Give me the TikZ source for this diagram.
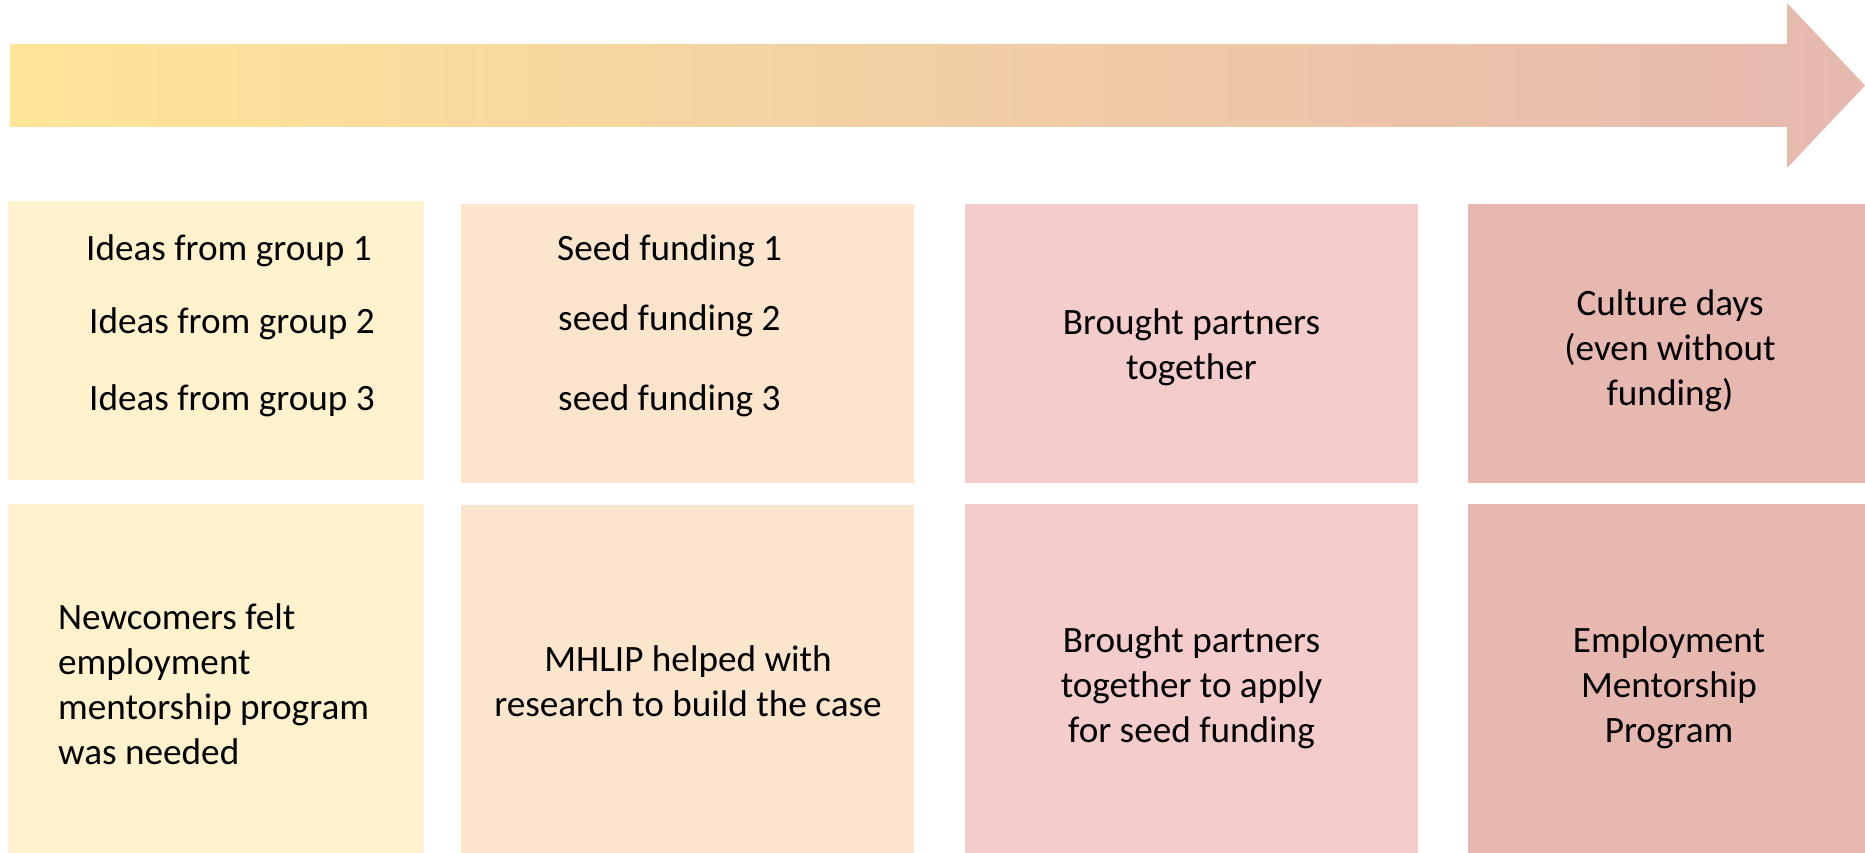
\documentclass[tikz,border=0pt]{standalone}
\usepackage{fontspec}
\setmainfont{Carlito}
\definecolor{stageA}{HTML}{FFF2CC}
\definecolor{stageB}{HTML}{FCE5CD}
\definecolor{stageC}{HTML}{F4CCCC}
\definecolor{stageD}{HTML}{E6B8AF}
\definecolor{arrowStart}{HTML}{FFE599}
\begin{document}
\begin{tikzpicture}[x=1pt,y=-1pt,
  cell/.style={draw=none,inner sep=0pt,anchor=north west},
  txt/.style={inner sep=0pt,font=\fontsize{37.2}{44.7}\selectfont,align=center,anchor=base},
  txtl/.style={txt,anchor=base west,align=left}]
\useasboundingbox (0,0) rectangle (1865,853);

% timeline arrow
\shade[left color=arrowStart,right color=stageD]
  (10,44) -- (1787,44) -- (1787,3) -- (1865,85.5) -- (1787,168) -- (1787,127) -- (10,127) -- cycle;

% stage boxes
\node[cell,fill=stageA,minimum width=416pt,minimum height=279pt] (a1) at (8,201) {};
\node[cell,fill=stageB,minimum width=453pt,minimum height=279pt] (b1) at (461,204) {};
\node[cell,fill=stageC,minimum width=453pt,minimum height=279pt] (c1) at (965,204) {};
\node[cell,fill=stageD,minimum width=397pt,minimum height=279pt] (d1) at (1468,204) {};
\node[cell,fill=stageA,minimum width=416pt,minimum height=349pt] (a2) at (8,504) {};
\node[cell,fill=stageB,minimum width=453pt,minimum height=348pt] (b2) at (461,505) {};
\node[cell,fill=stageC,minimum width=453pt,minimum height=349pt] (c2) at (965,504) {};
\node[cell,fill=stageD,minimum width=397pt,minimum height=349pt] (d2) at (1468,504) {};

% first row texts (multi-line nodes are placed by the baseline of their last line)
\node[txtl] (a1t1) at (86,260) {Ideas from group 1};
\node[txtl] (a1t2) at (89,333) {Ideas from group 2};
\node[txtl] (a1t3) at (89,410) {Ideas from group 3};
\node[txtl] (b1t1) at (557,260) {Seed funding 1};
\node[txtl] (b1t2) at (558,330) {seed funding 2};
\node[txtl] (b1t3) at (558,410) {seed funding 3};
\node[txt] (c1t) at (1191.5,379) {Brought partners\\together};
\node[txt] (d1t) at (1670,405) {Culture days\\(even without\\funding)};

% second row texts
\node[txtl] (a2t) at (58,764) {Newcomers felt\\employment\\mentorship program\\was needed};
\node[txt] (b2t) at (688,716) {MHLIP helped with\\research to build the case};
\node[txt] (c2t) at (1191.5,742) {Brought partners\\together to apply\\for seed funding};
\node[txt] (d2t) at (1669,742) {Employment\\Mentorship\\Program};
\end{tikzpicture}
\end{document}
